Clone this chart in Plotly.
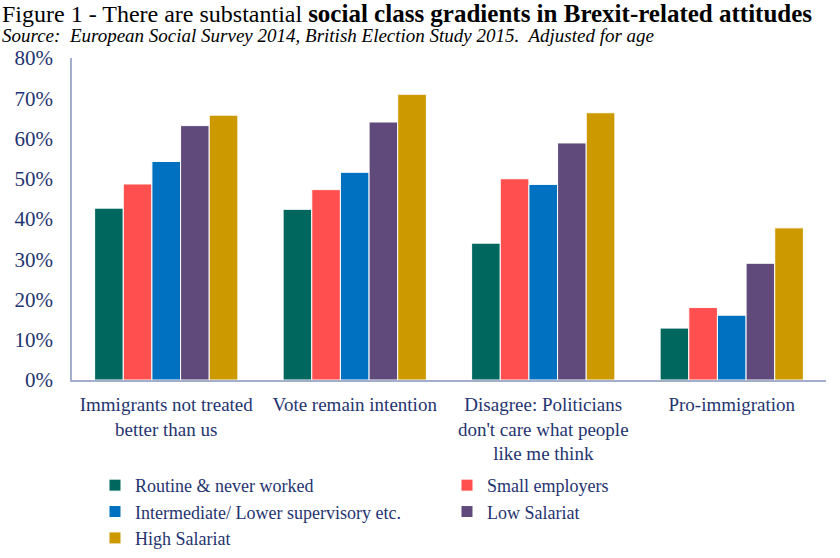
import plotly.graph_objects as go

categories = [
    "Immigrants not treated<br>better than us",
    "Vote remain intention",
    "Disagree: Politicians<br>don't care what people<br>like me think",
    "Pro-immigration",
]
series_names = [
    "Routine & never worked",
    "Small employers",
    "Intermediate/ Lower supervisory etc.",
    "Low Salariat",
    "High Salariat",
]
routine = [0.427, 0.424, 0.340, 0.129]
small_employers = [0.487, 0.473, 0.500, 0.180]
intermediate = [0.543, 0.516, 0.486, 0.161]
low_salariat = [0.632, 0.641, 0.589, 0.290]
high_salariat = [0.658, 0.710, 0.664, 0.378]
series_values = [routine, small_employers, intermediate, low_salariat, high_salariat]
colors = ["#00675F", "#FF4F4F", "#0070C0", "#604A7B", "#CC9900"]

title_plain = "Figure 1 - There are substantial "
title_bold = "social class gradients in Brexit-related attitudes"
subtitle = "Source:\u00a0 European Social Survey 2014, British Election Study 2015.\u00a0 Adjusted for age"

navy = "#1F3470"
serif = "Liberation Serif, Times New Roman, serif"

fig = go.Figure()
for name, vals, col in zip(series_names, series_values, colors):
    fig.add_trace(go.Bar(
        x=categories, y=vals, name=name,
        marker=dict(color=col, line=dict(color="white", width=1)),
    ))

fig.update_layout(
    width=840, height=558,
    paper_bgcolor="white", plot_bgcolor="white",
    margin=dict(l=72, r=14, t=58, b=178, autoexpand=False),
    barmode="group", bargap=0.24, bargroupgap=0,
    font=dict(family=serif, color=navy, size=19),
    annotations=[
        dict(
            text=title_plain + "<b><span style='font-size:25px'>" + title_bold + "</span></b>",
            xref="paper", yref="paper", x=-0.0955, y=1.138, xanchor="left", yanchor="middle",
            showarrow=False, font=dict(family=serif, size=24, color="black"),
        ),
        dict(
            text="<i>" + subtitle + "</i>",
            xref="paper", yref="paper", x=-0.0955, y=1.070, xanchor="left", yanchor="middle",
            showarrow=False, font=dict(family=serif, size=19, color="black"),
        ),
    ],
    showlegend=True,
    legend=dict(
        orientation="h", x=0.0305, xanchor="left", y=-0.27, yanchor="top",
        entrywidth=307, entrywidthmode="pixels",
        font=dict(family=serif, size=18, color=navy),
        itemclick=False, tracegroupgap=0,
    ),
)
fig.update_yaxes(
    range=[0, 0.8], dtick=0.1, tickformat=".0%",
    showgrid=False, zeroline=False,
    showline=True, linecolor="#A3AECB", linewidth=1.5,
    ticks="", ticklabelstandoff=13,
    tickfont=dict(family=serif, size=21, color=navy),
)
fig.update_xaxes(
    showgrid=False, showline=True, linecolor="#A3AECB", linewidth=2,
    ticks="", ticklabelstandoff=6,
    tickfont=dict(family=serif, size=19, color=navy),
)

fig.write_html(
    "out.html",
    config={"displayModeBar": False},
    post_script="document.body.style.margin='0px';",
)
